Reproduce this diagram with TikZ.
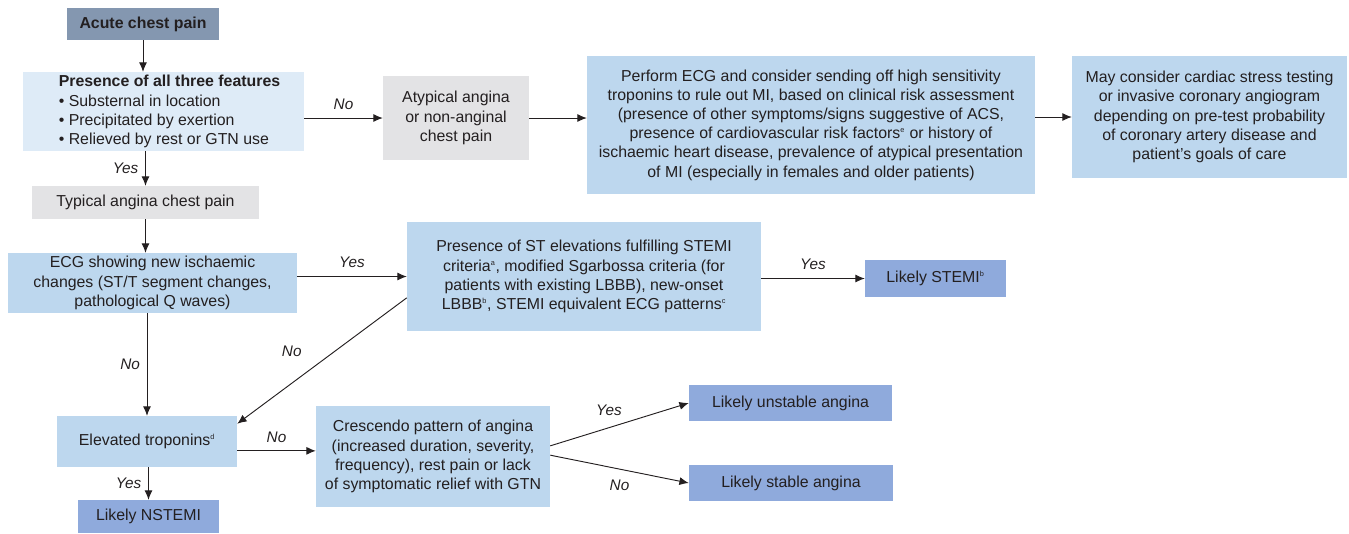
\documentclass[tikz,border=0pt]{standalone}
\usepackage{fontspec}
\setmainfont{Liberation Sans}
\usetikzlibrary{arrows.meta,positioning}
\definecolor{hdr}{HTML}{8497B0}
\definecolor{pale}{HTML}{DEEBF7}
\definecolor{lblue}{HTML}{BDD7EE}
\definecolor{greyb}{HTML}{E3E3E5}
\definecolor{res}{HTML}{8FAADC}
\definecolor{ink}{HTML}{231F20}
\newcommand{\fnm}[1]{\textsuperscript{\fontsize{5.5}{6}\selectfont #1}}
\tikzset{box/.style={rectangle,align=center,inner sep=2pt,text=ink,
 font=\fontsize{11.9}{14.4}\selectfont},
 sz/.style 2 args={minimum width=#1*0.75pt,minimum height=#2*0.75pt},
 hd/.style={box,fill=hdr,font=\fontsize{11.9}{14}\selectfont\bfseries},
 q/.style={box,fill=lblue},
 qp/.style={box,fill=pale},
 gr/.style={box,fill=greyb},
 resbox/.style={box,fill=res},
 arr/.style={-{Latex[length=7pt,width=6pt]},draw=ink,line width=0.7pt},
 lbl/.style={font=\fontsize{11.5}{13}\selectfont\itshape,text=ink,inner sep=2pt}}
\begin{document}
\begin{tikzpicture}[x=0.75pt,y=-0.75pt]
\useasboundingbox (0,0) rectangle (1349,533);
\node[hd,sz={152}{32}] (start) at (143,24) {Acute chest pain};
\node[qp,sz={281}{79},align=left] (feat) at (163.5,111.5) {\hspace*{9pt}\textbf{Presence of all three features}\\
 \hspace*{9pt}\textbullet\ Substernal in location\\ \hspace*{9pt}\textbullet\ Precipitated by exertion\\ \hspace*{9pt}\textbullet\ Relieved by rest or GTN use};
\node[gr,sz={146}{84}] (atyp) at (456,118) {Atypical angina\\or non-anginal\\chest pain};
\node[q,sz={448}{138}] (perf) at (811,125) {Perform ECG and consider sending off high sensitivity\\
 troponins to rule out MI, based on clinical risk assessment\\
 (presence of other symptoms/signs suggestive of ACS,\\
 presence of cardiovascular risk factors\fnm{e} or history of\\
 ischaemic heart disease, prevalence of atypical presentation\\
 of MI (especially in females and older patients)};
\node[q,sz={275}{122}] (stress) at (1209.5,117) {May consider cardiac stress testing\\or invasive coronary angiogram\\
 depending on pre-test probability\\of coronary artery disease and\\patient’s goals of care};
\node[gr,sz={227}{33}] (typ) at (145.5,202.5) {Typical angina chest pain};
\node[q,sz={289}{60}] (ecgnew) at (152.5,283) {ECG showing new ischaemic\\changes (ST/T segment changes,\\pathological Q waves)};
\node[q,sz={354}{109}] (st) at (584,276.5) {Presence of ST elevations fulfilling STEMI\\
 criteria\fnm{a}, modified Sgarbossa criteria (for\\patients with existing LBBB), new-onset\\
 LBBB\fnm{b}, STEMI equivalent ECG patterns\fnm{c}};
\node[resbox,sz={141}{37}] (stemi) at (935.5,278.5) {Likely STEMI\fnm{b}};
\node[q,sz={180}{51}] (trop) at (147,441.5) {Elevated troponins\fnm{d}};
\node[q,sz={234}{101}] (cresc) at (433,456.5) {Crescendo pattern of angina\\(increased duration, severity,\\
 frequency), rest pain or lack\\of symptomatic relief with GTN};
\node[resbox,sz={203}{36}] (unst) at (790.5,403) {Likely unstable angina};
\node[resbox,sz={204}{36}] (stab) at (791,483) {Likely stable angina};
\node[resbox,sz={141}{33}] (nstemi) at (148.5,516.5) {Likely NSTEMI};
\draw[arr] (start)--(start|-feat.north);
\draw[arr] (feat.east|-atyp)--node[lbl,above=4pt]{No}(atyp);
\draw[arr] (atyp)--(atyp-|perf.west);
\draw[arr] (perf.east|-stress)--(stress);
\draw[arr] (feat.south-|typ)--node[lbl,left=3pt]{Yes}(typ);
\draw[arr] (typ)--(typ|-ecgnew.north);
\draw[arr] (ecgnew.east|-st)--node[lbl,above=4pt]{Yes}(st);
\draw[arr] (st.east|-stemi)--node[lbl,above=4pt]{Yes}(stemi);
\draw[arr] (ecgnew.south-|trop)--node[lbl,left=3pt]{No}(trop);
\draw[arr] ([yshift=-16pt]st.west)--node[lbl,above left=1pt and 13pt]{No}([yshift=-6pt]trop.north east);
\draw[arr] ([yshift=-7pt]trop.east)--node[lbl,above=4pt]{No}([yshift=-7pt]trop.east-|cresc.west);
\draw[arr] (trop.south-|nstemi)--node[lbl,left=3pt]{Yes}(nstemi);
\draw[arr] ([yshift=8pt]cresc.east)--node[lbl,above left=4pt and -4pt]{Yes}(unst.west);
\draw[arr] ([yshift=1pt]cresc.east)--node[lbl,below=6pt]{No}(stab.west);
\end{tikzpicture}
\end{document}
